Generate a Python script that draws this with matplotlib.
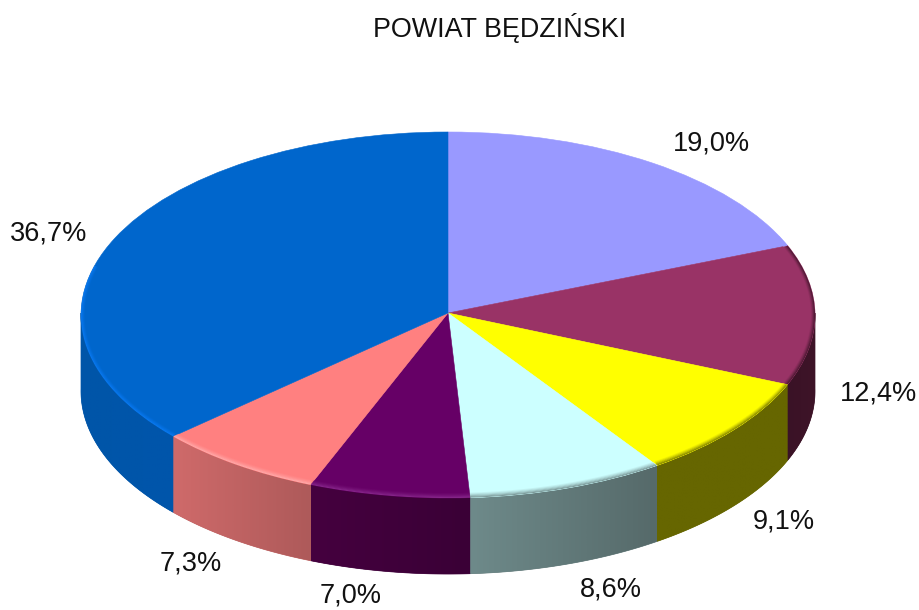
import numpy as np
import matplotlib
matplotlib.use("Agg")
import matplotlib.pyplot as plt
from matplotlib.colors import to_rgb
from matplotlib.patches import Polygon
from matplotlib.transforms import Transform

plt.rcParams['font.family'] = ['Liberation Sans', 'DejaVu Sans']

title = "POWIAT BĘDZIŃSKI"
values = [19.0, 12.4, 9.1, 8.6, 7.0, 7.3, 36.7]
labels = ["19,0%", "12,4%", "9,1%", "8,6%", "7,0%", "7,3%", "36,7%"]
top_colors = ["#9999FF", "#993366", "#FFFF00", "#CCFFFF", "#660066", "#FF8080", "#0066CC"]
side_left = ["#5C5C99", "#3A1226", "#666600", "#6E8A8A", "#45003F", "#CF6A6A", "#0055A8"]
side_right = ["#5C5C99", "#3E1428", "#666600", "#566A6A", "#3A0036", "#AE5A5A", "#0055AB"]
rim_colors = ["#9999FF", "#3A1226", "#6E6E00", "#6E8888", "#8A2A8E", "#FFB0B0", "#0A7CF8"]
label_px = [(711, 144), (878, 394), (784, 521), (611, 590), (351, 596), (191, 563), (49, 234)]

W, H = 919, 610
CX, CY, RX, RY, DEPTH = 448, 313, 367, 183, 76
K = 0.011
RIM_X, RIM_Y = 4 / RX, 5 / RY


def project(xy):
    xy = np.asarray(xy, float)
    w = 1 + K * xy[..., 1:2]
    return xy / w


class Perspective(Transform):
    input_dims = output_dims = 2
    is_separable = False
    has_inverse = False

    def transform_non_affine(self, values):
        return project(values)


fig = plt.figure(figsize=(W / 100, H / 100), dpi=100, facecolor="white")
ax = fig.add_axes([0, 0, 1, 1])
ax.axis("off")

total = sum(values)
d = DEPTH / RY


def mix(a, b, t):
    a, b = np.array(to_rgb(a)), np.array(to_rgb(b))
    return tuple(a + (b - a) * t)


# side wall: one gradient per visible slice, clipped to the wall outline
start = 90.0
bounds = []
for v in values:
    end = start - v / total * 360
    bounds.append((start, end))
    start = end

for (a0, a1), sl, sr in zip(bounds, side_left, side_right):
    lo, hi = max(a1, -180), min(a0, 0)
    if lo >= hi:
        continue
    th = np.radians(np.linspace(hi, lo, 80))
    pts = project(np.c_[np.cos(th), np.sin(th)])
    px, py = pts[:, 0], pts[:, 1]
    outline = np.r_[np.c_[px, py], np.c_[px[::-1], py[::-1] - d]]
    ax.fill(outline[:, 0], outline[:, 1], color=mix(sl, sr, 0.5), lw=0.5, zorder=1)
    poly = Polygon(outline, closed=True, fill=False, lw=0, zorder=1)
    ax.add_patch(poly)
    grad = np.array([[mix(sl, sr, t) for t in np.linspace(0, 1, 64)]])
    im = ax.imshow(grad, extent=(px.min(), px.max(), py.min() - d, py.max()),
                   aspect="auto", interpolation="bilinear", zorder=1.5)
    im.set_clip_path(poly)

wedges, _ = ax.pie(values, colors=top_colors, startangle=90, counterclock=False,
                   wedgeprops=dict(linewidth=0.4))
persp = Perspective() + ax.transData
for w, c in zip(wedges, top_colors):
    w.set_transform(persp)
    w.set_edgecolor(c)
    w.set_zorder(2)

# bevel along the front edge of the top face
bands = 6
for (a0, a1), w, top, rc in zip(bounds, wedges, top_colors, rim_colors):
    lo, hi = max(a1, -195), min(a0, 25)
    if lo >= hi:
        continue
    th = np.radians(np.linspace(hi, lo, 120))
    x, y = np.cos(th), np.sin(th)
    for b in range(bands):
        t0, t1 = b / bands, (b + 1) / bands
        col = mix(top, rc, t1 ** 1.3)
        sx0, sy0 = 1 - RIM_X * (1 - t0), 1 - RIM_Y * (1 - t0)
        sx1, sy1 = 1 - RIM_X * (1 - t1), 1 - RIM_Y * (1 - t1)
        band = ax.fill(np.r_[x * sx0, (x * sx1)[::-1]],
                       np.r_[y * sy0, (y * sy1)[::-1]],
                       color=col, lw=0, zorder=3, transform=persp)[0]
        band.set_clip_path(w)

ax.set_aspect("auto")
ax.set_xlim((0 - CX) / RX, (W - CX) / RX)
ax.set_ylim((CY - H) / RY, CY / RY)

for s, (px, py) in zip(labels, label_px):
    fig.text(px / W, 1 - py / H, s, ha="center", va="center", fontsize=19.5, color="#111111")
fig.text(500 / W, 1 - 28 / H, title, ha="center", va="center", fontsize=19.4, color="#111111")

fig.savefig("out.png", dpi=100, facecolor="white")
